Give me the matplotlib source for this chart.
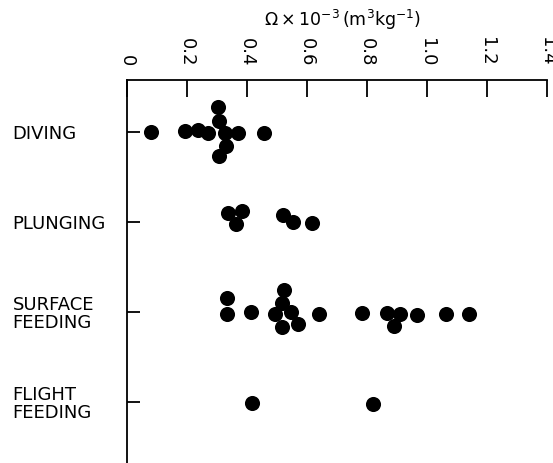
import matplotlib
matplotlib.use("Agg")
import matplotlib.pyplot as plt

# feeding groups, top to bottom
groups = ["DIVING", "PLUNGING", "SURFACE\nFEEDING", "FLIGHT\nFEEDING"]

# Omega x 10^-3 (m3 kg-1) for each bird
diving = [0.08, 0.195, 0.238, 0.272, 0.305, 0.308, 0.328, 0.372, 0.332, 0.308, 0.458]
plunging = [0.339, 0.384, 0.365, 0.523, 0.554, 0.617]
surface = [0.336, 0.336, 0.415, 0.526, 0.517, 0.495, 0.548, 0.517, 0.571, 0.642,
           0.786, 0.867, 0.912, 0.892, 0.967, 1.065, 1.143]
flight = [0.419, 0.823]

# vertical stacking of overlapping dots (in group units), as drawn
diving_stack = [0, -0.01, -0.02, 0.01, -0.28, -0.12, 0.01, 0.01, 0.16, 0.27, 0.01]
plunging_stack = [-0.1, -0.12, 0.02, -0.08, 0, 0.01]
surface_stack = [-0.15, 0.02, 0, -0.24, -0.1, 0.02, 0, 0.17, 0.13, 0.02,
                 0.01, 0.01, 0.02, 0.16, 0.03, 0.02, 0.02]
flight_stack = [0.01, 0.02]

xticks = [0, 0.2, 0.4, 0.6, 0.8, 1.0, 1.2, 1.4]
xticklabels = ["0", "0.2", "0.4", "0.6", "0.8", "1.0", "1.2", "1.4"]

plt.rcParams['font.family'] = ['DejaVu Sans']
plt.rcParams['mathtext.fontset'] = 'dejavusans'

fig = plt.figure(figsize=(5.53, 4.63), dpi=100)
ax = fig.add_axes([126.5 / 553, 0, 420 / 553, 1 - 80 / 463])

for i, (vals, stack) in enumerate([(diving, diving_stack), (plunging, plunging_stack),
                                   (surface, surface_stack), (flight, flight_stack)]):
    ys = [i + s for s in stack]
    ax.scatter(vals, ys, s=118, color='black', linewidths=0, zorder=3)

ax.set_xlim(0, 1.4)
ax.set_ylim(3.678, -0.578)

ax.spines['right'].set_visible(False)
ax.spines['bottom'].set_visible(False)
ax.spines['top'].set_linewidth(1.3)
ax.spines['left'].set_linewidth(1.3)

ax.xaxis.tick_top()
ax.xaxis.set_label_position('top')
ax.set_xticks(xticks)
ax.set_xticklabels(xticklabels, rotation=270, fontsize=13)
ax.tick_params(axis='x', direction='in', length=12, width=1.3, pad=10)
ax.set_xlabel(r"$\Omega\times10^{-3}\,(\mathrm{m^3kg^{-1}})$", fontsize=12.5, labelpad=8)
ax.xaxis.label.set_x(0.515)

ax.set_yticks(range(len(groups)))
ax.set_yticklabels(groups, fontsize=13, linespacing=1.0)
ax.tick_params(axis='y', direction='in', length=9.5, width=1.3, pad=82)
for lbl in ax.get_yticklabels():
    lbl.set_horizontalalignment('left')

fig.savefig("out.png", dpi=100)
